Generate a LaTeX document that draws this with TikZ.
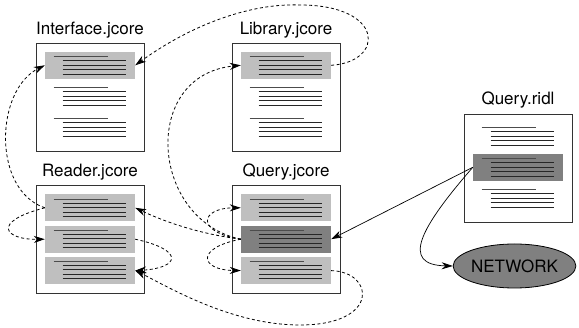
\documentclass[tikz,border=0pt]{standalone}
\usepackage{fontspec}
\setmainfont{TeX Gyre Heros}
\usepackage{tikz}
\usetikzlibrary{positioning}
\usetikzlibrary{arrows.meta,shapes.geometric}
\tikzstyle{docbox}=[draw=black!80,line width=0.8pt,fill=white,minimum width=108pt,minimum height=108pt,inner sep=0pt]
\tikzstyle{chunk}=[fill=black!25,minimum width=90pt,minimum height=27pt,inner sep=0pt]
\tikzstyle{hotchunk}=[chunk,fill=black!50]
\tikzstyle{filename}=[font=\fontsize{17}{20}\selectfont,inner sep=0pt]
\tikzstyle{shortline}=[draw=black!70,line width=0.9pt]
\tikzstyle{longline}=[draw=black!85,line width=0.9pt]
\tikzstyle{uses}=[draw,line width=0.8pt,dash pattern=on 3pt off 2.5pt,-{Stealth[length=11pt,width=7pt]}]
\tikzstyle{calls}=[draw,line width=0.7pt,-{Stealth[length=11pt,width=7pt]}]
\tikzstyle{netnode}=[ellipse,draw,line width=0.8pt,fill=black!50,minimum width=119pt,minimum height=44pt,inner sep=0pt,font=\fontsize{17}{20}\selectfont]

\begin{document}
\begin{tikzpicture}[x=1pt,y=-1pt]
    \useasboundingbox (0,0) rectangle (579,328);

    % the files
    \foreach \pos/\name in {{(90,97)/Iface}, {(286,97)/Lib}, {(90,239.5)/Read}, {(286,239.5)/Qry}, {(518,168)/Ridl}}
        \node[docbox] (\name) at \pos {};

    \node[filename, above=4.5pt of Iface] (IfaceT) {Interface.jcore};
    \node[filename, above=4.5pt of Lib] (LibT) {Library.jcore};
    \node[filename, above=4.5pt of Read] (ReadT) {Reader.jcore};
    \node[filename, above=4.5pt of Qry] (QryT) {Query.jcore};
    \node[filename, above=5pt of Ridl] (RidlT) {Query.ridl};

    % highlighted chunks
    \node[chunk, below=9pt of Iface.north] (IfaceA) {};
    \node[chunk, below=9pt of Lib.north] (LibA) {};
    \node[chunk, below=9pt of Read.north] (ReadA) {};
    \node[chunk, below=4pt of ReadA] (ReadB) {};
    \node[chunk, below=4pt of ReadB] (ReadC) {};
    \node[chunk, below=9pt of Qry.north] (QryA) {};
    \node[hotchunk, below=4pt of QryA] (QryB) {};
    \node[chunk, below=4pt of QryB] (QryC) {};
    \node[hotchunk, below=40pt of Ridl.north] (RidlB) {};

    % text lines
    \foreach \doc in {Iface,Lib,Read,Qry,Ridl}
      \foreach \g in {14,45,76} {
        \path[shortline] ([shift={(18,\g)}]\doc.north west) -- ++(54,0);
        \foreach \d in {4,8.5,13,17.5}
          \path[longline] ([shift={(27,\g+\d)}]\doc.north west) -- ++(63,0);
      }

    \node[netnode] (Net) at (514.5,266) {NETWORK};

    % dependencies
    \path[uses] (ReadA.west) .. controls (-8,190) and (-5,90) .. (IfaceA.west);
    \path[uses] (ReadA.west) .. controls (-10,222) and (5,240) .. (ReadB.west);
    \path[uses] (ReadB.east) .. controls (185,250) and (180,268) .. (ReadC.east);
    \path[uses] (LibA.east) .. controls (385,62) and (385,5) .. (300,5)
                            .. controls (250,3) and (191,25) .. (IfaceA.east);
    \path[uses] (QryB.west) .. controls (150,220) and (140,75) .. (LibA.west);
    \path[uses] (QryB.west) .. controls (195,232) and (200,208) .. (QryA.west);
    \path[uses] (QryB.west) .. controls (195,248) and (200,270) .. (QryC.west);
    \path[uses] (QryB.west) .. controls (200,234) and (165,222) .. (ReadA.east);
    \path[uses] (QryC.east) .. controls (375,272) and (380,325) .. (300,325)
                            .. controls (230,325) and (165,285) .. (ReadC.east);

    % generated code
    \path[calls] (RidlB.west) -- (QryB.east);
    \path[calls] (RidlB.west) .. controls (420,228) and (400,265) .. (Net.west);
\end{tikzpicture}
\end{document}
